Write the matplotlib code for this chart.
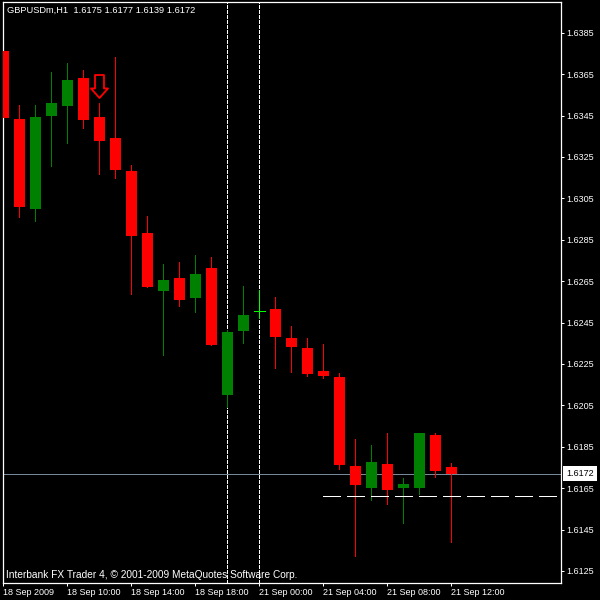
import matplotlib
matplotlib.use("Agg")
import matplotlib.pyplot as plt
from matplotlib.path import Path
from matplotlib.transforms import blended_transform_factory

plt.rcParams['font.family'] = ['Liberation Sans', 'DejaVu Sans']

# hourly candles, oldest first
opens = [1.63762, 1.63434, 1.62999, 1.63448, 1.63496, 1.63632, 1.63443, 1.63342, 1.63182, 1.62883,
         1.62603, 1.62665, 1.62569, 1.62714, 1.62100, 1.62409, 1.62506, 1.62516, 1.62376, 1.62327,
         1.62216, 1.62187, 1.61757, 1.61651, 1.61767, 1.61651, 1.61651, 1.61907, 1.6175]
highs = [1.63830, 1.63501, 1.63501, 1.63661, 1.63704, 1.63670, 1.63511, 1.63733, 1.63211, 1.62965,
         1.62733, 1.62743, 1.62777, 1.62767, 1.62414, 1.62627, 1.62607, 1.62574, 1.62434, 1.62376,
         1.62347, 1.62207, 1.61888, 1.61859, 1.61917, 1.61699, 1.61917, 1.61917, 1.6177]
lows = [1.63298, 1.62960, 1.62941, 1.63207, 1.63318, 1.63390, 1.63168, 1.63149, 1.62588, 1.62622,
        1.62293, 1.62530, 1.62501, 1.62342, 1.62042, 1.62351, 1.62472, 1.62231, 1.62211, 1.62192,
        1.62182, 1.61743, 1.61322, 1.61593, 1.61574, 1.61482, 1.61622, 1.61704, 1.6139]
closes = [1.63438, 1.63008, 1.63443, 1.63511, 1.63622, 1.63429, 1.63327, 1.63187, 1.62868, 1.62622,
          1.62656, 1.62559, 1.62685, 1.62342, 1.62405, 1.62487, 1.62506, 1.62380, 1.62332, 1.62202,
          1.62192, 1.61762, 1.61665, 1.61777, 1.61641, 1.61670, 1.61917, 1.61733, 1.6172]

x_ticks = [0, 4, 8, 12, 16, 20, 24, 28]
x_labels = ['18 Sep 2009', '18 Sep 10:00', '18 Sep 14:00', '18 Sep 18:00',
            '21 Sep 00:00', '21 Sep 04:00', '21 Sep 08:00', '21 Sep 12:00']
y_ticks = [1.6385, 1.6365, 1.6345, 1.6325, 1.6305, 1.6285, 1.6265,
           1.6245, 1.6225, 1.6205, 1.6185, 1.6165, 1.6145, 1.6125]

title = 'GBPUSDm,H1  1.6175 1.6177 1.6139 1.6172'
footer = 'Interbank FX Trader 4, © 2001-2009 MetaQuotes Software Corp.'
last_price = 1.6172
vlines_at = [14, 16]
signal_x, signal_price = 6, 1.63591
level_price, level_start, level_end = 1.61611, 20, 34.6

fig = plt.figure(figsize=(6, 6), dpi=100, facecolor='black')
ax = fig.add_axes([2.5 / 600, 1 - 582.5 / 600, 558 / 600, 581 / 600], facecolor='black')
ax.set_xlim(-0.0375, 34.8375)
ax.set_ylim(1.61194, 1.64001)

# the two period separators, behind the candles
for v in vlines_at:
    ax.axvline(v, color='white', lw=0.72, dashes=(3, 2), antialiased=False, zorder=1)

# bid line
ax.axhline(last_price, color='#778899', lw=0.72, antialiased=False, zorder=1)

for i in range(len(opens)):
    if opens[i] == closes[i]:
        c = '#00FF00'
    elif closes[i] > opens[i]:
        c = '#008000'
    else:
        c = '#FF0000'
    # plot rather than vlines, Line2D gets snapped to the pixel grid
    ax.plot([i, i], [lows[i], highs[i]], color=c, lw=0.72, antialiased=False, zorder=2)
    if opens[i] == closes[i]:
        ax.plot([i - 0.34, i + 0.34], [opens[i], opens[i]], color=c, lw=0.72, antialiased=False, zorder=2)
    else:
        ax.bar(i, abs(closes[i] - opens[i]), bottom=min(opens[i], closes[i]), width=11 / 16,
               color=c, linewidth=0, antialiased=False, zorder=3)

# hollow sell arrow
arrow = Path([(-0.39, 1), (0.39, 1), (0.39, -0.17), (0.74, -0.17), (0, -1), (-0.74, -0.17),
              (-0.39, -0.17), (-0.39, 1)], closed=True)
ax.plot([signal_x], [signal_price], marker=arrow, ms=16.56, mfc='none', mec='#FF0000', mew=1.3, zorder=4)

# long dashed level
ax.plot([level_start, level_end], [level_price, level_price], color='white', lw=0.72,
        dashes=(18, 6), antialiased=False, zorder=4)

for s in ax.spines.values():
    s.set_color('white')
    s.set_linewidth(0.9)

ax.yaxis.tick_right()
ax.set_xticks(x_ticks)
ax.set_xticklabels(x_labels, ha='left')
ax.set_yticks(y_ticks)
ax.set_yticklabels(['%.4f' % t for t in y_ticks])
ax.tick_params(axis='x', colors='white', length=2.5, width=0.72, pad=1.5, labelsize=6.5)
ax.tick_params(axis='y', colors='white', length=2.5, width=0.72, pad=1.5, labelsize=6.5)

ax.text(7 / 600, 1 - 10.5 / 600, title, color='white', fontsize=6.7, va='center', transform=fig.transFigure)
ax.text(6 / 600, 1 - 575 / 600, footer, color='white', fontsize=7.3, va='center', transform=fig.transFigure, zorder=5)

# current price tag over the axis
ax.text(566 / 600, last_price, '%.4f' % last_price, color='black', fontsize=6.5, va='center', ha='left',
        transform=blended_transform_factory(fig.transFigure, ax.transData),
        clip_on=False, zorder=6,
        bbox=dict(facecolor='white', edgecolor='white', pad=2.2, linewidth=0))

fig.savefig('out.png', dpi=100, facecolor='black')
